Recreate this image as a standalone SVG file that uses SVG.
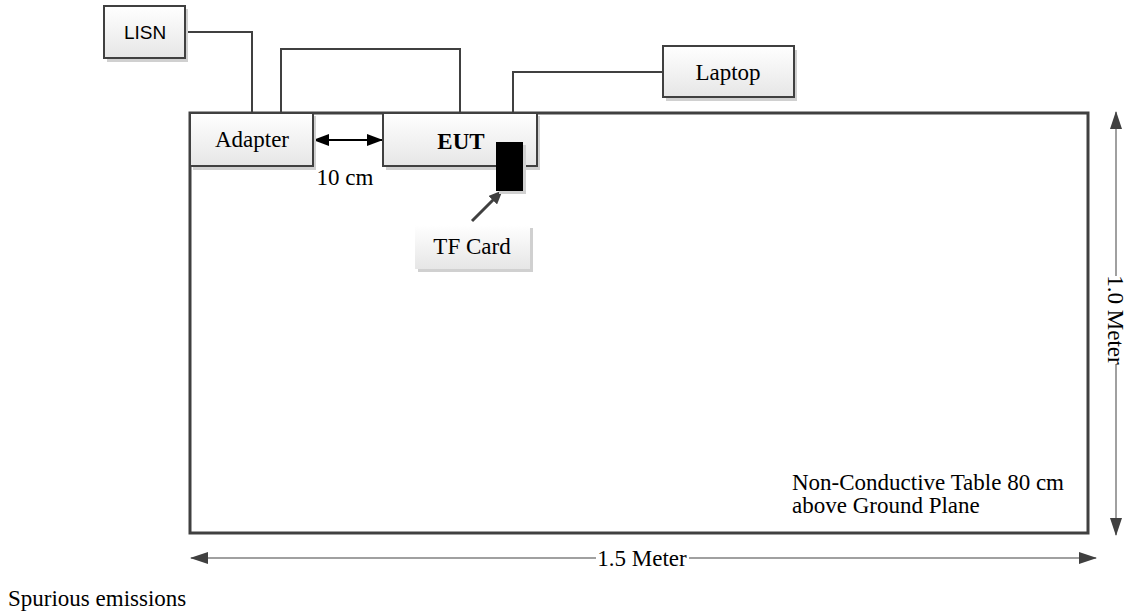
<svg xmlns="http://www.w3.org/2000/svg" width="1133" height="615" viewBox="0 0 1133 615">
<defs>
<linearGradient id="g" x1="0" y1="0" x2="0" y2="1">
<stop offset="0" stop-color="#ffffff"/>
<stop offset="1" stop-color="#e6e6e6"/>
</linearGradient>
<marker id="ah" viewBox="0 0 18 12" refX="17" refY="6" markerWidth="18" markerHeight="12" markerUnits="userSpaceOnUse" orient="auto-start-reverse">
<path d="M0,0 L18,6 L0,12 z" fill="#404040"/>
</marker>
<marker id="bh" viewBox="0 0 16 12" refX="15" refY="6" markerWidth="16" markerHeight="12" markerUnits="userSpaceOnUse" orient="auto-start-reverse">
<path d="M0,0 L16,6 L0,12 z" fill="#000"/>
</marker>
<marker id="th" viewBox="0 0 14 12" refX="13" refY="6" markerWidth="14" markerHeight="12" markerUnits="userSpaceOnUse" orient="auto">
<path d="M0,0 L14,6 L0,12 z" fill="#404040"/>
</marker>
</defs>
<style>
.box{fill:url(#g);stroke:#404040;stroke-width:2}
.sh{fill:#d0d0d0}
.ln{fill:none;stroke:#404040;stroke-width:2}
.dim{fill:none;stroke:#808080;stroke-width:1.5}
.t{font-family:"Liberation Serif","Times New Roman",serif;font-size:23px;fill:#000}
.s{font-family:"Liberation Sans",Arial,sans-serif;font-size:19px;fill:#000}
</style>
<rect width="1133" height="615" fill="#fff"/>

<g id="table">
<rect x="190" y="113" width="898" height="420" fill="none" stroke="#404040" stroke-width="3"/>
<text class="t" x="792" y="490">Non-Conductive Table 80 cm</text>
<text class="t" x="792" y="513">above Ground Plane</text>
</g>

<g id="connectors">
<polyline class="ln" points="186,32 252,32 252,113"/>
<polyline class="ln" points="281,113 281,49 460,49 460,113"/>
<polyline class="ln" points="663,72 513,72 513,113"/>
<line x1="314" y1="140" x2="382" y2="140" stroke="#000" stroke-width="2" marker-start="url(#bh)" marker-end="url(#bh)"/>
<line x1="472" y1="221" x2="502" y2="191" stroke="#404040" stroke-width="3" marker-end="url(#th)"/>
</g>

<g id="lisn">
<rect class="sh" x="107" y="9" width="81" height="53"/>
<rect class="box" x="104" y="6" width="81" height="52"/>
<text class="s" x="145" y="39" text-anchor="middle">LISN</text>
</g>

<g id="laptop">
<rect class="sh" x="666" y="50" width="131" height="51"/>
<rect class="box" x="663" y="46" width="131" height="51"/>
<text class="t" x="728" y="80" text-anchor="middle">Laptop</text>
</g>

<g id="adapter">
<rect class="sh" x="193" y="116" width="123" height="54"/>
<rect class="box" x="190" y="113" width="123" height="53"/>
<text class="t" x="252" y="147" text-anchor="middle">Adapter</text>
</g>

<g id="eut">
<rect class="sh" x="386" y="116" width="154" height="54"/>
<rect class="box" x="383" y="113" width="154" height="53"/>
<text class="t" x="461" y="149" text-anchor="middle" font-weight="bold" font-size="27px">EUT</text>
</g>

<g id="tfslot">
<rect class="sh" x="499" y="145" width="27" height="49"/>
<rect x="496" y="142" width="27" height="49" fill="#000"/>
</g>

<g id="tfcard">
<rect class="sh" x="418" y="228" width="115" height="44"/>
<rect x="415" y="225" width="115" height="44" fill="url(#g)"/>
<text class="t" x="472" y="254" text-anchor="middle" font-size="22px">TF Card</text>
</g>

<g id="dim10">
<text class="t" x="345" y="185" text-anchor="middle">10 cm</text>
</g>

<g id="dimH">
<line class="dim" x1="191" y1="558" x2="596" y2="558" marker-start="url(#ah)"/>
<line class="dim" x1="689" y1="558" x2="1096" y2="558" marker-end="url(#ah)"/>
<text class="t" x="642" y="566" text-anchor="middle">1.5 Meter</text>
</g>

<g id="dimV">
<line class="dim" x1="1116" y1="112" x2="1116" y2="276" marker-start="url(#ah)"/>
<line class="dim" x1="1116" y1="364" x2="1116" y2="535" marker-end="url(#ah)"/>
<text class="t" x="0" y="0" text-anchor="middle" transform="translate(1108,320) rotate(90)">1.0 Meter</text>
</g>

<text class="t" x="8" y="606">Spurious emissions</text>
</svg>
